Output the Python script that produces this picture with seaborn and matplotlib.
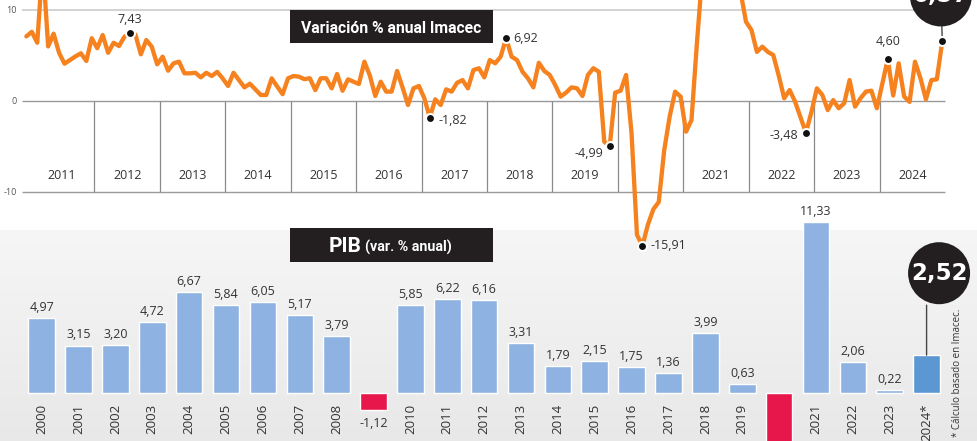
import numpy as np
import pandas as pd
import matplotlib
matplotlib.use("Agg")
import matplotlib.pyplot as plt
from matplotlib.colors import LinearSegmentedColormap
from matplotlib.patches import Rectangle
import seaborn as sns

# ------------------------------------------------------------------ data
imacec_start = "2010-12"
imacec = [7.1,
    7.6, 6.4, 15.2, 6.0, 7.4, 5.3, 4.1, 4.5, 4.9, 5.24, 4.4, 6.9,        # 2011
    5.8, 7.25, 5.3, 6.4, 6.04, 7.07, 7.43, 7.3, 5.13, 6.7, 5.97, 4.03,   # 2012
    4.87, 3.33, 4.14, 4.32, 3.04, 3.04, 3.1, 2.6, 3.1, 2.75, 3.2, 2.49,  # 2013
    1.65, 3.1, 2.3, 1.5, 1.9, 1.28, 0.66, 0.66, 2.49, 1.6, 0.75, 2.49,   # 2014
    2.75, 2.67, 2.4, 2.5, 1.2, 2.5, 2.5, 1.39, 2.97, 1.13, 2.38, 2.12,   # 2015
    1.87, 4.32, 2.8, 0.55, 2.12, 1.03, 1.03, 3.3, 1.5, -0.44, 1.39, 1.65,  # 2016
    0.3, -1.82, 0.18, -0.44, 1.28, 1.03, 2.0, 2.3, 1.39, 3.4, 3.6, 2.6,  # 2017
    4.5, 4.14, 4.87, 6.92, 4.87, 4.5, 3.22, 2.49, 1.5, 4.2, 3.3, 2.86,   # 2018
    1.76, 0.48, 0.92, 1.5, 1.39, 0.55, 2.86, 3.6, 3.22, -4.47, -4.99, 0.92,  # 2019
    1.13, 2.86, -3.5, -14.7, -15.91, -13.6, -11.9, -11.1, -5.4, -1.7, 1.03, 0.48,  # 2020
    -3.37, -2.1, 6.4, 14.1, 18.1, 20.1, 18.1, 19.1, 15.5, 14.9, 12.0, 8.7,  # 2021
    7.8, 5.4, 5.97, 5.4, 5.05, 2.8, 0.3, 1.2, -0.07, -1.8, -3.48, -1.2,  # 2022
    1.39, 0.66, -1.0, 0.1, -0.8, -0.25, 2.3, -0.62, 0.3, 1.03, 1.13, -0.8,  # 2023
    1.9, 4.60, 0.6, 4.14, 0.5, -0.1, 4.32, 2.5, 0.18, 2.3, 2.38, 6.57]   # 2024

imacec_hl_months = ["2012-07", "2017-02", "2018-04", "2019-11", "2020-05", "2022-11", "2024-02"]
imacec_hl_labels = ["7,43", "-1,82", "6,92", "-4,99", "-15,91", "-3,48", "4,60"]
imacec_last_label = "6,57"
imacec_years = [str(y) for y in range(2011, 2025)]
imacec_year_labels = ["2011", "2012", "2013", "2014", "2015", "2016", "2017", "2018",
                      "2019", "", "2021", "2022", "2023", "2024"]
imacec_yticks = [10, 0, -10]
imacec_ytick_labels = ["10", "0", "-10"]

pib_years = ["2000", "2001", "2002", "2003", "2004", "2005", "2006", "2007", "2008", "2009",
             "2010", "2011", "2012", "2013", "2014", "2015", "2016", "2017", "2018", "2019",
             "2020", "2021", "2022", "2023", "2024"]
pib_values = [4.97, 3.15, 3.20, 4.72, 6.67, 5.84, 6.05, 5.17, 3.79, -1.12,
              5.85, 6.22, 6.16, 3.31, 1.79, 2.15, 1.75, 1.36, 3.99, 0.63,
              -6.14, 11.33, 2.06, 0.22, 2.52]
pib_value_labels = ["4,97", "3,15", "3,20", "4,72", "6,67", "5,84", "6,05", "5,17", "3,79", "-1,12",
                    "5,85", "6,22", "6,16", "3,31", "1,79", "2,15", "1,75", "1,36", "3,99", "0,63",
                    "", "11,33", "2,06", "0,22", ""]
pib_tick_labels = ["2000", "2001", "2002", "2003", "2004", "2005", "2006", "2007", "2008", "",
                   "2010", "2011", "2012", "2013", "2014", "2015", "2016", "2017", "2018", "2019",
                   "", "2021", "2022", "2023", "2024*"]
pib_last_label = "2,52"

title_imacec = "Variación % anual Imacec"
title_pib_main = "PIB"
title_pib_sub = "(var. % anual)"
footnote = "* Cálculo basado en Imacec."

# ------------------------------------------------------------------ style
sns.set_theme(style="white")
plt.rcParams['font.family'] = ['Open Sans', 'DejaVu Sans']
NARROW = ['Liberation Sans Narrow', 'Roboto', 'DejaVu Sans']

ORANGE = "#f5821f"
BLUE = "#8eb2e1"
BLUE_DARK = "#5b97d3"
RED = "#e8174b"
BLACK = "#231f20"
TXT = "#333333"

W, H = 977, 441
fig = plt.figure(figsize=(W / 100, H / 100), dpi=100)

def fx(px):
    return px / W

def fy(py):
    return 1 - py / H

# background gradient of lower panel
panel_top = 230
ax_bg = fig.add_axes([0, 0, 1, (H - panel_top) / H])
grad = np.linspace(0, 1, 256)[:, None]
ax_bg.imshow(grad, aspect='auto', cmap=LinearSegmentedColormap.from_list('bg', ['#f6f6f6', '#e8e8e8']),
             origin='upper', extent=[0, 1, 0, 1])
ax_bg.set_axis_off()

# ------------------------------------------------------------------ bars
ax_b = fig.add_axes([0, 0, 1, 1])
ax_b.set_facecolor('none')
df_pib = pd.DataFrame({'year': pib_years, 'pib': pib_values})
bar_colors = [RED if v < 0 else BLUE for v in pib_values]
bar_colors[-1] = BLUE_DARK
sns.barplot(data=df_pib, x='year', y='pib', hue='year', palette=bar_colors, width=0.72,
            dodge=False, legend=False, saturation=1, ax=ax_b, zorder=2)

bx0, bdx = 41.7, 36.87   # px of first bar centre, px per bar
by0, bdy = 393.3, 15.14  # px of baseline, px per unit
ax_b.set_xlim(-bx0 / bdx, (W - bx0) / bdx)
ax_b.set_ylim((by0 - H) / bdy, by0 / bdy)
ax_b.set_axis_off()

for k, (lab, v) in enumerate(zip(pib_value_labels, pib_values)):
    if lab:
        if v >= 0:
            ax_b.annotate(lab, (k, v), xytext=(0, 3), textcoords='offset points',
                          ha='center', va='bottom', fontsize=9, color=TXT)
        else:
            ax_b.annotate(lab, (k, v), xytext=(0, -5), textcoords='offset points',
                          ha='center', va='top', fontsize=9, color=TXT)
for k, lab in enumerate(pib_tick_labels):
    if lab:
        ax_b.annotate(lab, (k, 0), xytext=(0, -7.5), textcoords='offset points',
                      ha='center', va='top', rotation=90, fontsize=9.5, color=TXT)

last_k = len(pib_values) - 1
ax_b.annotate("", (last_k, pib_values[-1]), xytext=(0, 36), textcoords='offset points',
              arrowprops=dict(arrowstyle='-', color='#444444', lw=1, shrinkA=0, shrinkB=0))
ax_b.annotate(pib_last_label, (last_k, pib_values[-1]), xytext=(9, 59),
              textcoords='offset points', ha='center', va='center', color='white',
              fontsize=16.5, fontweight='bold', family=['DejaVu Sans'],
              bbox=dict(boxstyle='circle,pad=0.12', fc=BLACK, ec='none'))

# ------------------------------------------------------------------ line
ax_l = fig.add_axes([0, 0, 1, 1])
ax_l.set_facecolor('none')
months = pd.period_range(imacec_start, periods=len(imacec), freq='M')
midx = (months.year - 2011) * 12 + (months.month - 1)
df_im = pd.DataFrame({'m': np.asarray(midx, dtype=float), 'v': imacec})

lx0, ldx = 31.8, 5.452   # px of Jan-2011, px per month
ly0, ldy = 101.0, 9.1    # px of zero line, px per unit
ax_l.set_xlim(-lx0 / ldx, (W - lx0) / ldx)
ax_l.set_ylim((ly0 - H) / ldy, ly0 / ldy)

gx0, gx1 = (22 - lx0) / ldx, (945 - lx0) / ldx
ax_l.hlines([imacec_yticks[0]], gx0, gx1, color='#cfcfcf', lw=1.3, zorder=1)
ax_l.hlines(imacec_yticks[1:], gx0, gx1, color='#9a9a9a', lw=1.0, zorder=1)
bounds = [12 * k - 0.5 for k in range(1, len(imacec_years))]
ax_l.vlines(bounds, imacec_yticks[2], imacec_yticks[1], color='#8a8a8a', lw=0.9, zorder=1)
for k, lab in enumerate(imacec_year_labels):
    if lab:
        ax_l.text(12 * k + 5.5, -8.24, lab, ha='center', va='center', fontsize=9, color=TXT)
for v, lab in zip(imacec_yticks, imacec_ytick_labels):
    ax_l.text((17 - lx0) / ldx, v, lab, ha='right', va='center', fontsize=6.5, color='#555555')

sns.lineplot(data=df_im, x='m', y='v', color=ORANGE, lw=3.1, ax=ax_l, zorder=3)

hl_periods = pd.PeriodIndex(imacec_hl_months, freq='M')
hl_x = [(p.year - 2011) * 12 + p.month - 1 for p in hl_periods]
hl_v = [imacec[list(months).index(p)] for p in hl_periods]
sns.scatterplot(x=hl_x + [df_im['m'].iloc[-1]], y=hl_v + [imacec[-1]], s=42, color='#111111',
                edgecolor='white', linewidth=1.5, zorder=5, ax=ax_l, legend=False)
offsets = [((0, 5), 'center', 'bottom'), ((6, -2), 'left', 'center'), ((5, 0), 'left', 'center'),
           ((-5, -5), 'right', 'center'), ((6, 0), 'left', 'center'), ((-6, -2), 'right', 'center'),
           ((0, 8), 'center', 'bottom')]
for x, v, lab, (off, ha, va) in zip(hl_x, hl_v, imacec_hl_labels, offsets):
    ax_l.annotate(lab, (x, v), xytext=off, textcoords='offset points', ha=ha, va=va,
                  fontsize=9, color=TXT, zorder=6)

ax_l.annotate(imacec_last_label, (df_im['m'].iloc[-1], imacec[-1]), xytext=(-1, 33),
              textcoords='offset points', ha='center', va='center', color='white',
              fontsize=16.5, fontweight='bold', family=['DejaVu Sans'],
              bbox=dict(boxstyle='circle,pad=0.12', fc=BLACK, ec='none'),
              arrowprops=dict(arrowstyle='-', color='#444444', lw=1, shrinkA=0, shrinkB=0))
ax_l.set_axis_off()

# ------------------------------------------------------------------ title boxes
fig.patches.append(Rectangle((fx(290), fy(43)), fx(203), 33 / H, transform=fig.transFigure,
                             fc=BLACK, ec='none', zorder=10))
fig.text(fx(391.5), fy(33), title_imacec, ha='center', va='baseline', color='white',
         fontsize=11.3, fontweight='bold', family=NARROW, zorder=11)

fig.patches.append(Rectangle((fx(290), fy(262)), fx(203), 34 / H, transform=fig.transFigure,
                             fc=BLACK, ec='none', zorder=10))
fig.text(fx(361), fy(252), title_pib_main, ha='right', va='baseline', color='white',
         fontsize=15, fontweight='bold', family=NARROW, zorder=11)
fig.text(fx(365), fy(252), title_pib_sub, ha='left', va='baseline', color='white',
         fontsize=10.3, fontweight='bold', family=NARROW, zorder=11)

fig.text(fx(958), fy(437), footnote, rotation=90, ha='center', va='bottom',
         fontsize=7, color=TXT)

fig.savefig("out.png", dpi=100)
